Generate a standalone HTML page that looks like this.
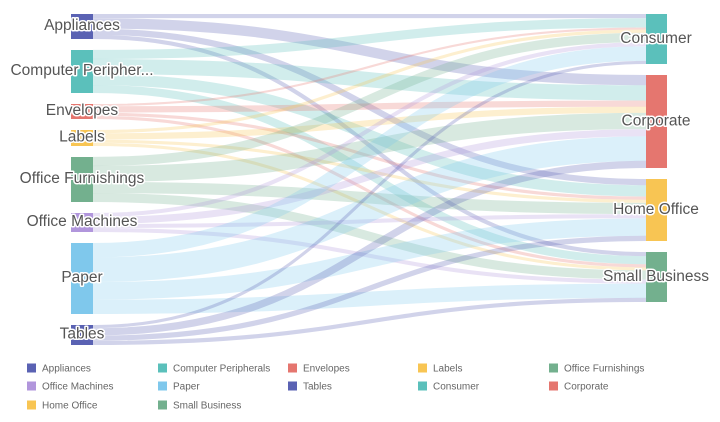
<!DOCTYPE html>
<html><head><meta charset="utf-8"><style>
body{margin:0;background:#fff;width:720px;height:422px;overflow:hidden;font-family:"Liberation Sans",sans-serif}
svg{display:block}
.lbl{font-size:15.5px;fill:#555;stroke:#fff;stroke-width:3px;paint-order:stroke;stroke-linejoin:round}
.lg{font-size:10px;fill:#666}
</style></head><body>
<svg id="s" width="720" height="422" xmlns="http://www.w3.org/2000/svg"></svg>
<script>
const S=[["Appliances",14,39,"#5a62b3"],["Computer Peripher...",50,93,"#5bc0bb"],["Envelopes",104,119,"#e5766f"],["Labels",130,146,"#f8c553"],["Office Furnishings",157,202,"#73b08e"],["Office Machines",213,232,"#b196dc"],["Paper",243,314,"#7fc8ec"],["Tables",325,345,"#5a62b3"]];
const T=[["Consumer",14,64,"#5bc0bb"],["Corporate",75,168,"#e5766f"],["Home Office",179,241,"#f8c553"],["Small Business",252,302,"#73b08e"]];
const V=[[4,10,6,4],[9,15,11,8],[2,6,3,3],[3,6,3,3],[9,16,11,9],[4,7,4,4],[14,24,17,14],[3,7,5,4]];
const ns="http://www.w3.org/2000/svg",svg=document.getElementById("s");
function el(t,a,txt){const e=document.createElementNS(ns,t);for(const k in a)e.setAttribute(k,a[k]);if(txt)e.textContent=txt;svg.appendChild(e);return e;}
const tt=[0,0,0,0];V.forEach(r=>r.forEach((v,j)=>tt[j]+=v));
const tOff=T.map(t=>t[1]);
const x0=93,x1=646,xm=(x0+x1)/2;
S.forEach((s,i)=>{const st=V[i].reduce((a,b)=>a+b,0);let sy=s[1];
 V[i].forEach((v,j)=>{const ws=v/st*(s[2]-s[1]);const wt=v/tt[j]*(T[j][2]-T[j][1]);const w=(ws+wt)/2;
  const ya=sy+ws/2,yb=tOff[j]+wt/2;sy+=ws;tOff[j]+=wt;
  el("path",{d:`M${x0},${ya} C${xm},${ya} ${xm},${yb} ${x1},${yb}`,fill:"none",stroke:s[3],"stroke-opacity":0.28,"stroke-width":w});});});
S.forEach(s=>{el("rect",{x:71,y:s[1],width:22,height:s[2]-s[1],fill:s[3]});el("text",{x:82,y:(s[1]+s[2])/2+3.5,"text-anchor":"middle",class:"lbl"},s[0]);});
T.forEach(t=>{el("rect",{x:646,y:t[1],width:21,height:t[2]-t[1],fill:t[3]});el("text",{x:656,y:(t[1]+t[2])/2+4,"text-anchor":"middle",class:"lbl"},t[0]);});
const L=[["Appliances","#5a62b3"],["Computer Peripherals","#5bc0bb"],["Envelopes","#e5766f"],["Labels","#f8c553"],["Office Furnishings","#73b08e"],["Office Machines","#b196dc"],["Paper","#7fc8ec"],["Tables","#5a62b3"],["Consumer","#5bc0bb"],["Corporate","#e5766f"],["Home Office","#f8c553"],["Small Business","#73b08e"]];
const cx=[27,158,288,418,549],ry=[368,386,405];
L.forEach((l,k)=>{const x=cx[k%5],y=ry[Math.floor(k/5)];el("rect",{x:x,y:y-4.5,width:9,height:9,fill:l[1]});el("text",{x:x+15,y:y+3.5,class:"lg"},l[0]);});
</script>
</body></html>
